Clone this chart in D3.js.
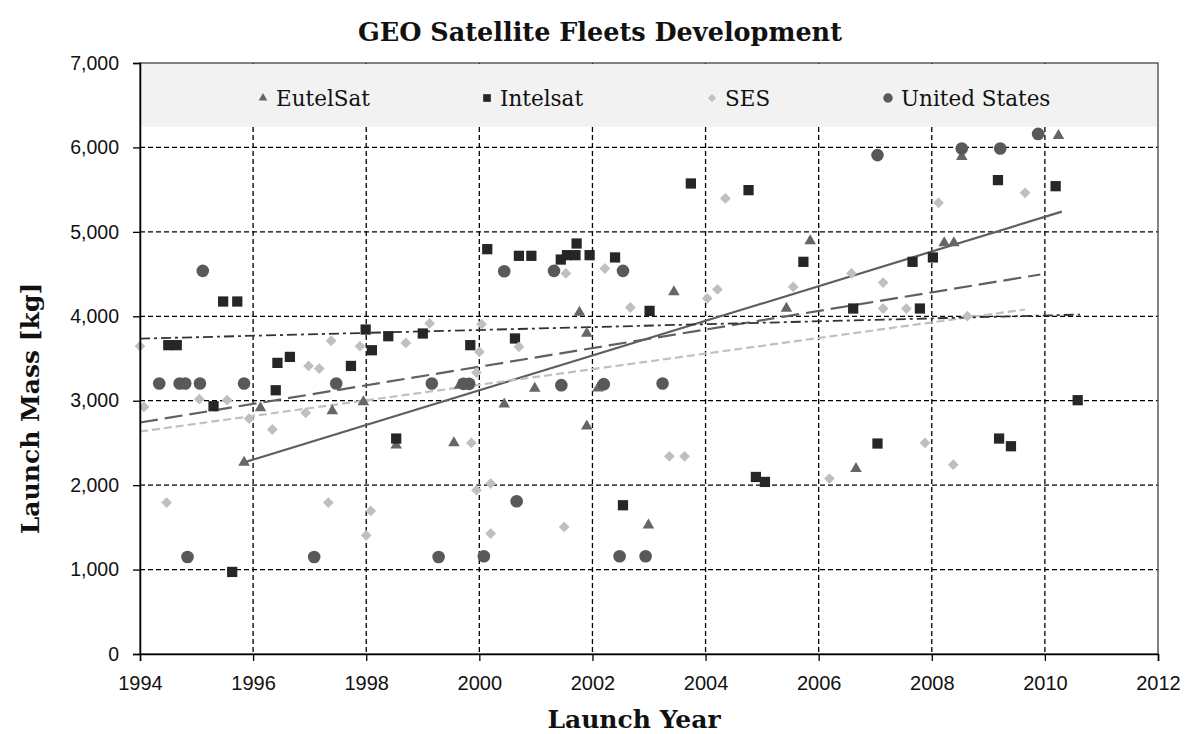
<!DOCTYPE html>
<html>
<head>
<meta charset="utf-8">
<script src="https://cdn.jsdelivr.net/npm/d3@7"></script>
<style>
  body { margin: 0; background: #fff; }
  svg { display: block; }
</style>
</head>
<body>
<svg id="chart" width="1195" height="734"></svg>
<script>
// ---------- data (year, launch mass kg) ----------
const eutelsat = [
  [1995.84, 2268], [1996.13, 2915], [1997.40, 2879], [1997.95, 2986], [1998.53, 2473],
  [1999.55, 2500], [1999.65, 3180], [2000.44, 2960], [2000.98, 3145], [2001.77, 4045],
  [2001.90, 3796], [2001.90, 2698], [2002.10, 3150], [2002.99, 1525], [2003.44, 4289],
  [2005.43, 4092], [2005.85, 4893], [2006.66, 2196], [2008.22, 4870], [2008.39, 4870],
  [2008.53, 5890], [2010.24, 6140]
];
const intelsat = [
  [1994.50, 3658], [1994.65, 3658], [1995.30, 2935], [1995.47, 4175], [1995.63, 972],
  [1995.72, 4175], [1996.40, 3124], [1996.43, 3448], [1996.65, 3519], [1997.73, 3412],
  [1997.99, 3843], [1998.10, 3598], [1998.39, 3764], [1998.53, 2552], [1999.00, 3796],
  [1999.84, 3658], [2000.14, 4795], [2000.63, 3737], [2000.70, 4716], [2000.92, 4716],
  [2001.44, 4672], [2001.55, 4724], [2001.70, 4724], [2001.72, 4862], [2001.95, 4724],
  [2002.40, 4697], [2002.54, 1762], [2003.01, 4064], [2003.74, 5573], [2004.76, 5494],
  [2004.89, 2097], [2005.05, 2038], [2005.73, 4645], [2006.61, 4092], [2007.04, 2493],
  [2007.66, 4645], [2007.79, 4092], [2008.02, 4697], [2009.17, 5613], [2009.19, 2552],
  [2009.40, 2461], [2010.19, 5541], [2010.58, 3006]
];
const ses = [
  [1994.00, 3646], [1994.07, 2926], [1994.47, 1794], [1995.05, 3018], [1995.54, 3006],
  [1995.93, 2789], [1996.34, 2659], [1996.93, 2856], [1996.98, 3412], [1997.17, 3381],
  [1997.33, 1794], [1997.38, 3709], [1997.89, 3646], [1998.00, 1406], [1998.08, 1694],
  [1998.70, 3685], [1999.12, 3915], [1999.86, 2500], [1999.95, 3334], [1999.95, 1940],
  [2000.00, 3578], [2000.04, 3906], [2000.20, 2019], [2000.20, 1427], [2000.70, 3638],
  [2001.50, 1505], [2001.53, 4507], [2002.22, 4566], [2002.67, 4104], [2003.36, 2342],
  [2003.63, 2342], [2004.03, 4211], [2004.21, 4318], [2004.35, 5396], [2005.55, 4348],
  [2006.19, 2078], [2006.58, 4507], [2007.14, 4400], [2007.14, 4092], [2007.55, 4092],
  [2007.88, 2500], [2008.12, 5344], [2008.38, 2243], [2008.63, 4001], [2009.65, 5462]
];
const unitedStates = [
  [1994.34, 3204], [1994.70, 3204], [1994.80, 3204], [1994.84, 1149], [1995.06, 3204],
  [1995.11, 4538], [1995.84, 3204], [1997.08, 1149], [1997.47, 3204], [1999.16, 3204],
  [1999.28, 1149], [1999.72, 3200], [1999.82, 3200], [2000.08, 1157], [2000.44, 4534],
  [2000.66, 1809], [2001.32, 4538], [2001.45, 3184], [2002.20, 3196], [2002.48, 1157],
  [2002.54, 4538], [2002.94, 1157], [2003.24, 3204], [2007.04, 5909], [2008.53, 5988],
  [2009.21, 5988], [2009.88, 6160]
];
// trend line end points (year, mass)
const trendEutelsat = [[1995.84, 2270], [2010.30, 5240]];
const trendIntelsat = [[1994.00, 2742], [2009.92, 4495]];
const trendSes = [[1994.00, 2635], [2009.65, 4080]];
const trendUS = [[1994.00, 3735], [2010.62, 4020]];

const seriesNames = ["EutelSat", "Intelsat", "SES", "United States"];
const xTicks = [1994, 1996, 1998, 2000, 2002, 2004, 2006, 2008, 2010, 2012];
const yTicks = [0, 1000, 2000, 3000, 4000, 5000, 6000, 7000];

// ---------- layout ----------
const svg = d3.select("#chart");
const L = 140, R = 1158, T = 63, B = 654;
const x = d3.scaleLinear().domain([1994, 2012]).range([L, R]);
const y = d3.scaleLinear().domain([0, 7000]).range([B, T]);

const serif = "'DejaVu Serif', 'Liberation Serif', serif";
const sans = "'Liberation Sans', Arial, sans-serif";

const styles = [
  { data: eutelsat, trend: trendEutelsat, color: "#666666", shape: "triangle", lineColor: "#5f5f5f", dash: null, lw: 2.2 },
  { data: intelsat, trend: trendIntelsat, color: "#262626", shape: "square", lineColor: "#606060", dash: "18,7", lw: 2.2 },
  { data: ses, trend: trendSes, color: "#bfbfbf", shape: "diamond", lineColor: "#c0c0c0", dash: "8,4", lw: 2.2 },
  { data: unitedStates, trend: trendUS, color: "#595959", shape: "circle", lineColor: "#333333", dash: "10,4,3,4", lw: 1.8 }
];

function shapePath(shape, s) {
  if (shape === "triangle") return d3.symbol(d3.symbolTriangle, 58 * s * s)();
  if (shape === "square") return d3.symbol(d3.symbolSquare, 105 * s * s)();
  if (shape === "diamond") return d3.symbol(d3.symbolSquare, 58 * s * s)();
  return d3.symbol(d3.symbolCircle, 125 * s * s)();
}

// grid
const grid = svg.append("g");
grid.selectAll("line.h").data(yTicks.filter(v => v > 0 && v < 7000)).join("line")
  .attr("x1", L).attr("x2", R).attr("y1", d => y(d)).attr("y2", d => y(d))
  .attr("stroke", "#000").attr("stroke-width", 1.3).attr("stroke-dasharray", "5,3");
grid.selectAll("line.v").data(xTicks.filter(v => v > 1994 && v < 2012)).join("line")
  .attr("y1", T).attr("y2", B).attr("x1", d => x(d)).attr("x2", d => x(d))
  .attr("stroke", "#000").attr("stroke-width", 1.3).attr("stroke-dasharray", "5,3");

// legend band (inside plot area, top)
svg.append("rect").attr("x", L + 1).attr("y", T + 1).attr("width", R - L - 2).attr("height", 63)
  .attr("fill", "#f2f2f2");

// trend lines
const line = d3.line().x(d => x(d[0])).y(d => y(d[1]));
styles.forEach(s => {
  svg.append("path").attr("d", line(s.trend)).attr("fill", "none")
    .attr("stroke", s.lineColor).attr("stroke-width", s.lw)
    .attr("stroke-dasharray", s.dash);
});

// markers
styles.forEach(s => {
  svg.append("g").selectAll("path").data(s.data).join("path")
    .attr("d", shapePath(s.shape, 1))
    .attr("transform", d => `translate(${x(d[0])},${y(d[1])})` + (s.shape === "diamond" ? " rotate(45)" : ""))
    .attr("fill", s.color);
});

// plot border
svg.append("rect").attr("x", L).attr("y", T).attr("width", R - L).attr("height", B - T)
  .attr("fill", "none").attr("stroke", "#404040").attr("stroke-width", 1.3);

// axes
const yAxis = d3.axisLeft(y).tickValues(yTicks).tickFormat(d3.format(",")).tickSize(7).tickPadding(14);
const gy = svg.append("g").attr("transform", `translate(${L},0)`).call(yAxis);
gy.select(".domain").attr("stroke", "#000").attr("stroke-width", 1.5);
gy.selectAll(".tick line").attr("stroke", "#000").attr("stroke-width", 1.3);
gy.selectAll("text").attr("font-family", sans).attr("font-size", 19.5).attr("fill", "#111");

const xAxis = d3.axisBottom(x).tickValues(xTicks).tickFormat(d3.format("d")).tickSize(7).tickPadding(15);
const gx = svg.append("g").attr("transform", `translate(0,${B})`).call(xAxis);
gx.select(".domain").attr("stroke", "#000").attr("stroke-width", 1.5);
gx.selectAll(".tick line").attr("stroke", "#000").attr("stroke-width", 1.3);
gx.selectAll("text").attr("font-family", sans).attr("font-size", 20).attr("fill", "#111");

// legend items
const legendX = [263, 487, 712, 888];
styles.forEach((s, i) => {
  const g = svg.append("g").attr("transform", `translate(${legendX[i]},98)`);
  g.append("path").attr("d", shapePath(s.shape, 0.75))
    .attr("transform", s.shape === "diamond" ? "rotate(45)" : null)
    .attr("fill", s.color);
  g.append("text").attr("x", 13).attr("y", 8).text(seriesNames[i])
    .attr("font-family", serif).attr("font-size", 21.5).attr("fill", "#111");
});

// titles
svg.append("text").attr("x", 600).attr("y", 41).attr("text-anchor", "middle")
  .attr("font-family", serif).attr("font-weight", "bold").attr("font-size", 25.5)
  .attr("fill", "#111").text("GEO Satellite Fleets Development");
svg.append("text").attr("x", 634).attr("y", 728).attr("text-anchor", "middle")
  .attr("font-family", serif).attr("font-weight", "bold").attr("font-size", 25)
  .attr("fill", "#111").text("Launch Year");
svg.append("text").attr("transform", `translate(39,${(T + B) / 2 + 50}) rotate(-90)`)
  .attr("text-anchor", "middle")
  .attr("font-family", serif).attr("font-weight", "bold").attr("font-size", 25)
  .attr("fill", "#111").text("Launch Mass [kg]");
</script>
</body>
</html>
